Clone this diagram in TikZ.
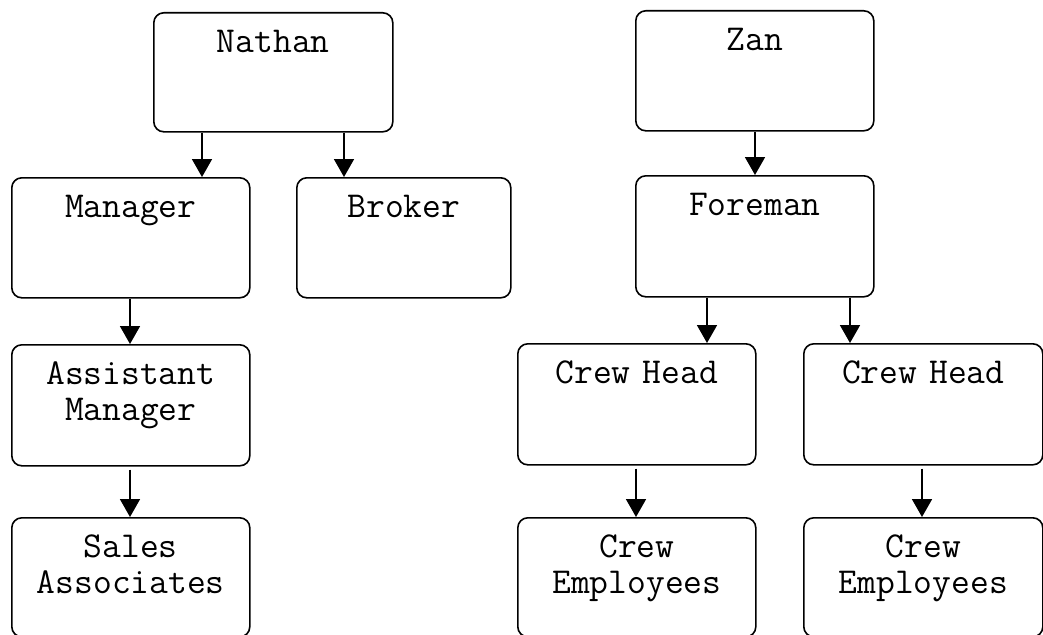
\documentclass[tikz,border=0pt]{standalone}
\usepackage{fontspec}
\usetikzlibrary{arrows.meta}
\newcommand{\boxfont}{\ttfamily\fontsize{36.5}{36}\selectfont}
\tikzset{
  orgbox/.style={draw, line width=1.6pt, rounded corners=10pt, inner sep=0pt,
    anchor=north west, align=center, font=\boxfont,
    text height=40pt},
  arr/.style={line width=1.8pt, -{Triangle[length=18pt,width=20pt]}}
}
\begin{document}
\begin{tikzpicture}[x=1pt,y=-1pt]
\useasboundingbox (0,0) rectangle (1043,634);
% left tree
\node[orgbox, text width=239pt, text depth=79pt] (nathan) at (153,12) {Nathan};
\node[orgbox, text width=238pt, text depth=80pt] (manager) at (11,177) {Manager};
\node[orgbox, text width=214pt, text depth=80pt] (broker) at (296,177) {Broker};
\node[orgbox, text width=238pt, text depth=81pt] (asst) at (11,344) {Assistant\\Manager};
\node[orgbox, text width=238pt, text depth=79pt] (sales) at (11,517) {Sales\\Associates};
% right tree
\node[orgbox, text width=238pt, text depth=80pt] (zan) at (635,10) {Zan};
\node[orgbox, text width=238pt, text depth=81pt] (foreman) at (635,175) {Foreman};
\node[orgbox, text width=238pt, text depth=81pt] (chA) at (517,343) {Crew Head};
\node[orgbox, text width=239pt, text depth=81pt] (chB) at (803,343) {Crew Head};
\node[orgbox, text width=238pt, text depth=79pt] (ceA) at (517,517) {Crew\\Employees};
\node[orgbox, text width=239pt, text depth=79pt] (ceB) at (803,517) {Crew\\Employees};
% connectors
\draw[arr] (nathan.south -| 202,0) -- (manager.north -| 202,0);
\draw[arr] (nathan.south -| 344,0) -- (broker.north -| 344,0);
\draw[arr] (manager.south -| 130,0) -- (asst.north -| 130,0);
\draw[arr] ([yshift=-3pt]asst.south -| 130,0) -- (sales.north -| 130,0);
\draw[arr] (zan.south -| 755,0) -- (foreman.north -| 755,0);
\draw[arr] (foreman.south -| 707,0) -- (chA.north -| 707,0);
\draw[arr] (foreman.south -| 850,0) -- (chB.north -| 850,0);
\draw[arr] ([yshift=-3pt]chA.south -| 636,0) -- (ceA.north -| 636,0);
\draw[arr] ([yshift=-3pt]chB.south -| 922,0) -- (ceB.north -| 922,0);
\end{tikzpicture}
\end{document}
